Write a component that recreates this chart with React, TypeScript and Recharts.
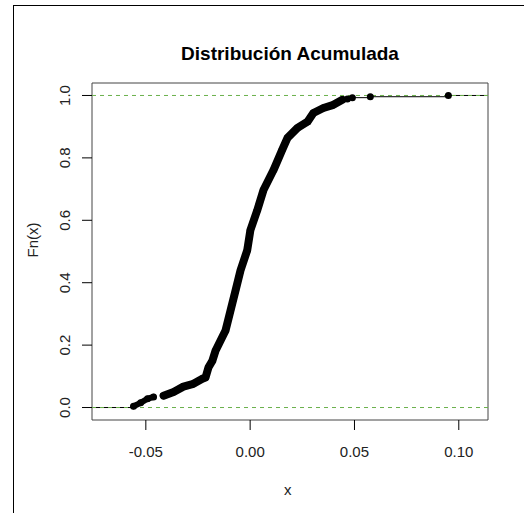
import React from 'react';
import {
  ComposedChart,
  Line,
  Scatter,
  XAxis,
  YAxis,
  ReferenceLine,
  ReferenceArea,
} from 'recharts';

const ecdfX = [
  -0.0559, -0.0525, -0.0492, -0.0463, -0.0415, -0.0367, -0.032, -0.0272, -0.0229, -0.0214,
  -0.02, -0.0181, -0.0166, -0.0118, -0.0094, -0.007, -0.0046, -0.0014, 0.0001, 0.0034,
  0.0064, 0.0112, 0.0153, 0.0179, 0.0227, 0.0275, 0.0303, 0.0351, 0.0399, 0.0442,
  0.0466, 0.049, 0.0576, 0.095,
];
const ecdfY = [
  0.004, 0.015, 0.028, 0.034, 0.038, 0.05, 0.067, 0.076, 0.092, 0.096,
  0.128, 0.15, 0.182, 0.247, 0.311, 0.375, 0.44, 0.504, 0.568, 0.632,
  0.697, 0.761, 0.825, 0.864, 0.896, 0.916, 0.944, 0.96, 0.97, 0.986,
  0.989, 0.993, 0.996, 1.0,
];
const xTicks = [-0.05, 0, 0.05, 0.1];
const yTicks = [0, 0.2, 0.4, 0.6, 0.8, 1.0];
const xDomain = [-0.0758, 0.114];
const yDomain = [-0.04, 1.04];

const W = 524;
const H = 513;
const PLOT_LEFT = 92;
const PLOT_RIGHT = 488;
const PLOT_TOP = 83;
const PLOT_BOTTOM = 420;
const FONT = "'Liberation Sans', Arial, sans-serif";
const LINE01 = '#6ab04c';

const points = ecdfX.map((x, i) => ({ x, y: ecdfY[i] }));
// the dots are so dense in the middle that they form a solid band
const bandA = points.slice(0, 4);
const bandB = points.slice(4, 30);
// thin step pieces only where the jumps are far apart
const stepHead = [{ x: xDomain[0], y: 0 }, points[0]];
const stepTail = [...points.slice(29), { x: xDomain[1], y: 1 }];

const XTick = (props: any) => {
  const { x, payload } = props;
  const v = payload.value as number;
  return (
    <text x={x} y={457} textAnchor="middle" fontSize={15} fontFamily={FONT} fill="#222">
      {v === 0 ? '0.00' : v.toFixed(2)}
    </text>
  );
};

const YTick = (props: any) => {
  const { y, payload } = props;
  return (
    <g>
      <line x1={PLOT_LEFT - 10} x2={PLOT_LEFT} y1={y} y2={y} stroke="#000" />
      <text
        x={70.5}
        y={y}
        textAnchor="middle"
        fontSize={15}
        fontFamily={FONT}
        fill="#222"
        transform={`rotate(-90, 70.5, ${y})`}
      >
        {(payload.value as number).toFixed(1)}
      </text>
    </g>
  );
};

const Dot = (props: any) => {
  const { cx, cy } = props;
  return <circle cx={cx} cy={cy} r={3.5} fill="#000" />;
};

export default function App() {
  return (
    <div style={{ position: 'fixed', left: 0, top: 0, width: W, height: H, background: '#fff' }}>
      <div
        style={{
          position: 'absolute',
          left: 13,
          top: 5,
          right: 0,
          bottom: 0,
          borderLeft: '1px solid #000',
          borderTop: '1px solid #000',
        }}
      />
      <ComposedChart
        width={W}
        height={H}
        margin={{ top: PLOT_TOP, right: W - PLOT_RIGHT, bottom: H - PLOT_BOTTOM - 40, left: PLOT_LEFT - 60 }}
        style={{ position: 'absolute', left: 0, top: 0 }}
      >
        <text x={290} y={60} textAnchor="middle" fontSize={19} fontWeight="bold" fontFamily={FONT} fill="#000">
          Distribución Acumulada
        </text>
        <text x={287.7} y={495} textAnchor="middle" fontSize={15} fontFamily={FONT} fill="#222">
          x
        </text>
        <text
          x={38}
          y={240}
          textAnchor="middle"
          fontSize={15}
          fontFamily={FONT}
          fill="#222"
          transform="rotate(-90, 38, 240)"
        >
          Fn(x)
        </text>
        <XAxis
          type="number"
          dataKey="x"
          domain={xDomain}
          ticks={xTicks}
          height={40}
          axisLine={false}
          tickSize={10}
          tickLine={{ stroke: '#000' }}
          tick={<XTick />}
          allowDataOverflow
        />
        <YAxis
          type="number"
          dataKey="y"
          domain={yDomain}
          ticks={yTicks}
          width={60}
          axisLine={false}
          tickLine={false}
          tick={<YTick />}
          allowDataOverflow
        />
        <ReferenceArea
          x1={xDomain[0]}
          x2={xDomain[1]}
          y1={yDomain[0]}
          y2={yDomain[1]}
          fill="none"
          stroke="#444"
          strokeWidth={1}
        />
        <Line
          data={stepHead}
          dataKey="y"
          type="stepAfter"
          stroke="#000"
          strokeWidth={1}
          dot={false}
          isAnimationActive={false}
        />
        <Line
          data={stepTail}
          dataKey="y"
          type="stepAfter"
          stroke="#000"
          strokeWidth={1}
          dot={false}
          isAnimationActive={false}
        />
        <Line
          data={bandA}
          dataKey="y"
          type="linear"
          stroke="#000"
          strokeWidth={6}
          strokeLinecap="round"
          dot={false}
          isAnimationActive={false}
        />
        <Line
          data={bandB}
          dataKey="y"
          type="linear"
          stroke="#000"
          strokeWidth={8}
          strokeLinecap="round"
          strokeLinejoin="round"
          dot={false}
          isAnimationActive={false}
        />
        <Scatter data={points} dataKey="y" shape={<Dot />} isAnimationActive={false} />
        <ReferenceLine y={0} stroke={LINE01} strokeDasharray="4 4" />
        <ReferenceLine y={1} stroke={LINE01} strokeDasharray="4 4" />
      </ComposedChart>
    </div>
  );
}
